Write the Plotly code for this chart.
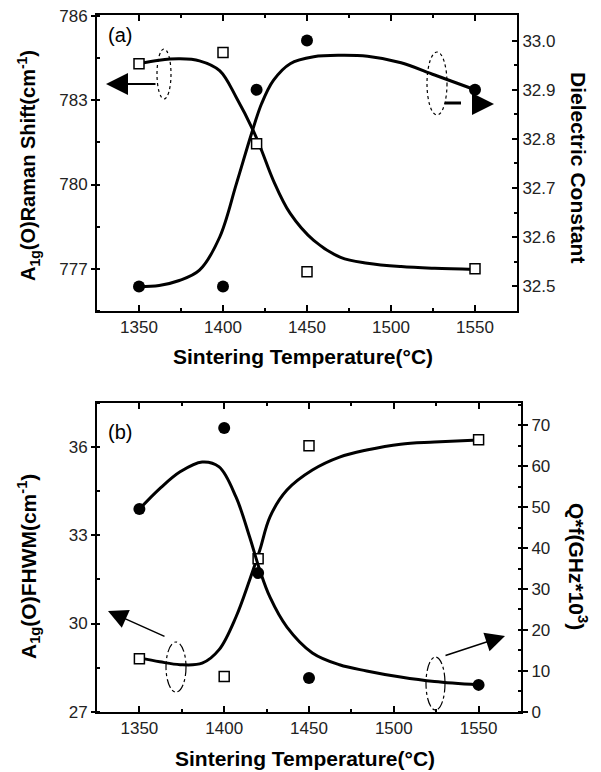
import plotly.graph_objects as go

# ---------------- data ----------------
temps = [1350, 1400, 1420, 1450, 1550]

# panel (a)
raman_shift = [784.3, 784.7, 781.45, 776.9, 777.0]          # open squares, left axis
dielectric = [32.5, 32.5, 32.9, 33.0, 32.9]                 # filled circles, right axis

raman_fit_T = [1350, 1362, 1374, 1386, 1398, 1408, 1418, 1423, 1430, 1440, 1454, 1470, 1486, 1506, 1526, 1550]
raman_fit = [784.3, 784.42, 784.47, 784.4, 784.05, 783.09, 781.92, 781.21, 780.14, 778.97, 778.01, 777.41, 777.2, 777.08, 777.02, 776.98]

diel_fit_T = [1350, 1362, 1374, 1386, 1398, 1408, 1417, 1423, 1430, 1440, 1454, 1470, 1486, 1506, 1526, 1550]
diel_fit = [32.5, 32.502, 32.512, 32.533, 32.60, 32.709, 32.811, 32.872, 32.919, 32.953, 32.967, 32.97, 32.968, 32.955, 32.93, 32.9]

# panel (b)
fwhm = [28.8, 28.2, 32.2, 36.05, 36.25]                     # open squares, left axis
qf = [49.5, 69.3, 33.9, 8.3, 6.6]                           # filled circles, right axis

fwhm_fit_T = [1350, 1362, 1374, 1387, 1397, 1407, 1415, 1421, 1427, 1437, 1452, 1468, 1484, 1504, 1524, 1550]
fwhm_fit = [28.83, 28.7, 28.6, 28.65, 29.11, 30.23, 31.48, 32.5, 33.63, 34.54, 35.22, 35.66, 35.9, 36.1, 36.17, 36.24]

qf_fit_T = [1350, 1362, 1374, 1387, 1397, 1407, 1415, 1421, 1427, 1437, 1452, 1468, 1484, 1504, 1524, 1550]
qf_fit = [49.5, 54.5, 58.6, 61.0, 59.8, 52.4, 42.7, 34.6, 28.0, 20.7, 14.4, 11.5, 10.0, 8.5, 7.4, 6.6]

x_ticks = [1350, 1400, 1450, 1500, 1550]
raman_ticks = [777, 780, 783, 786]
fwhm_ticks = [27, 30, 33, 36]

# page is 601x772; the browser body has an 8px margin, so the figure is placed at (8, 8)
OFF = 8
W, H = 601 - OFF, 772 - OFF
FONT = "Liberation Sans, Arial, sans-serif"


def px(x):
    return (x - OFF) / W


def py(y):
    return 1 - (y - OFF) / H


fig = go.Figure()

line_style = dict(color="black", width=3, shape="spline", smoothing=1.0)
sq_marker = dict(symbol="square", size=10, color="white", line=dict(color="black", width=1.5))
ci_marker = dict(symbol="circle", size=12, color="black")

# panel (a)
fig.add_trace(go.Scatter(x=raman_fit_T, y=raman_fit, mode="lines", line=line_style, xaxis="x", yaxis="y", hoverinfo="skip"))
fig.add_trace(go.Scatter(x=diel_fit_T, y=diel_fit, mode="lines", line=line_style, xaxis="x", yaxis="y2", hoverinfo="skip"))
fig.add_trace(go.Scatter(x=temps, y=raman_shift, mode="markers", marker=sq_marker, xaxis="x", yaxis="y"))
fig.add_trace(go.Scatter(x=temps, y=dielectric, mode="markers", marker=ci_marker, xaxis="x", yaxis="y2"))

# panel (b)
fig.add_trace(go.Scatter(x=fwhm_fit_T, y=fwhm_fit, mode="lines", line=line_style, xaxis="x2", yaxis="y3", hoverinfo="skip"))
fig.add_trace(go.Scatter(x=qf_fit_T, y=qf_fit, mode="lines", line=line_style, xaxis="x2", yaxis="y4", hoverinfo="skip"))
fig.add_trace(go.Scatter(x=temps, y=fwhm, mode="markers", marker=sq_marker, xaxis="x2", yaxis="y3"))
fig.add_trace(go.Scatter(x=temps, y=qf, mode="markers", marker=ci_marker, xaxis="x2", yaxis="y4"))

tickfont = dict(family=FONT, size=17, color="#222")
common = dict(showgrid=False, zeroline=False, showline=True, linecolor="black", linewidth=2,
              tickfont=tickfont, tickcolor="black", tickwidth=1.5, automargin=False,
              ticklabeloverflow="allow")

xa = dict(common, range=[1325, 1575], tickvals=x_ticks, ticks="inside", ticklen=6, mirror="ticks",
          minor=dict(dtick=25, tick0=1325, ticks="inside", ticklen=3, tickcolor="black", tickwidth=1.5))

fig.update_layout(
    width=W, height=H, autosize=False,
    margin=dict(l=0, r=0, t=0, b=0, pad=0, autoexpand=False),
    paper_bgcolor="white", plot_bgcolor="white",
    showlegend=False,
    xaxis=dict(xa, domain=[px(97), px(517)], anchor="y"),
    yaxis=dict(common, domain=[py(311), py(15)], range=[775.5, 786.03], tickvals=raman_ticks,
               ticks="outside", ticklen=4,
               minor=dict(dtick=1.5, tick0=777, ticks="inside", ticklen=3, tickcolor="black", tickwidth=1.5)),
    yaxis2=dict(common, overlaying="y", side="right", anchor="x", range=[32.45, 33.052], tick0=32.5, dtick=0.1,
                tickformat=".1f", ticks="inside", ticklen=5,
                minor=dict(dtick=0.05, tick0=32.45, ticks="inside", ticklen=3, tickcolor="black", tickwidth=1.5)),
    xaxis2=dict(xa, domain=[px(97), px(521)], anchor="y3"),
    yaxis3=dict(common, domain=[py(712), py(403)], range=[26.99, 37.5], tickvals=fwhm_ticks,
                ticks="outside", ticklen=4,
                minor=dict(dtick=1.5, tick0=27, ticks="inside", ticklen=3, tickcolor="black", tickwidth=1.5)),
    yaxis4=dict(common, overlaying="y3", side="right", anchor="x2", range=[-0.02, 75.4], tick0=0, dtick=10,
                ticks="outside", ticklen=5,
                minor=dict(dtick=5, tick0=0, ticks="inside", ticklen=3, tickcolor="black", tickwidth=1.5)),
)

title_font = dict(family=FONT, size=21, color="black")
ann = []


def text(x, y, t, angle=0, size=21, bold=True):
    ann.append(dict(x=px(x), y=py(y), xref="paper", yref="paper", text=("<b>%s</b>" % t) if bold else t,
                    showarrow=False, textangle=angle, xanchor="center", yanchor="middle",
                    font=dict(title_font, size=size)))


text(303, 356, "Sintering Temperature(\u00b0C)")
text(305, 758, "Sintering Temperature(\u00b0C)")
text(28, 166, "A<sub>1g</sub>(O)Raman Shift(cm<sup>-1</sup>)", angle=-90, size=20)
text(578, 167, "Dielectric Constant", angle=90)
text(28, 567, "A<sub>1g</sub>(O)FHWM(cm<sup>-1</sup>)", angle=-90)
text(578, 566, "Q*f(GHz*10<sup>3</sup>)", angle=90)
text(120, 35, "(a)", bold=False, size=20)
text(120, 432, "(b)", bold=False, size=20)


def arrow(tip, tail, width, size):
    ann.append(dict(x=px(tip[0]), y=py(tip[1]), xref="paper", yref="paper", text="",
                    showarrow=True, arrowhead=2, arrowsize=size, arrowwidth=width, arrowcolor="black",
                    ax=tail[0] - tip[0], ay=tail[1] - tip[1]))


arrow((106, 84), (157, 84), 2.2, 2.0)
arrow((494, 104), (474, 104), 2.2, 2.0)
arrow((108, 611), (166, 637), 1.5, 2.6)
arrow((505, 636), (444, 656), 1.5, 2.6)
fig.update_layout(annotations=ann)

shapes = []


def ellipse(x0, y0, x1, y1, dash):
    shapes.append(dict(type="circle", xref="paper", yref="paper", x0=px(x0), x1=px(x1), y0=py(y1), y1=py(y0),
                       line=dict(color="black", width=1.2, dash=dash)))


ellipse(157, 49, 171, 99, "dot")
ellipse(427, 52, 447, 115, "dot")
ellipse(166, 642, 186, 692, "dashdot")
ellipse(426, 657, 445, 710, "dashdot")
shapes.append(dict(type="line", xref="paper", yref="paper", x0=px(445), x1=px(461), y0=py(103), y1=py(103),
                   line=dict(color="black", width=3)))
fig.update_layout(shapes=shapes)

fig.write_html("out.html")
